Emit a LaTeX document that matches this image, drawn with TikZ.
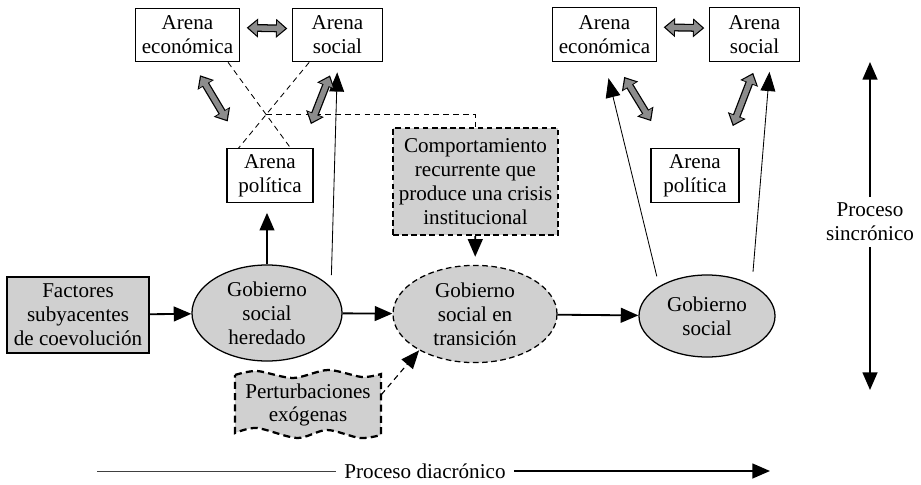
\documentclass[tikz,border=0pt]{standalone}
\usepackage{fontspec}
\setmainfont{Liberation Serif}
\usetikzlibrary{shapes.geometric, arrows.meta, calc}
\definecolor{relleno}{RGB}{208, 208, 208}
\definecolor{flechagris}{RGB}{140, 140, 140}
\tikzset{
    texto/.style={align=center, font=\fontsize{15}{17}\selectfont, inner sep=1pt},
    arena/.style={texto, rectangle, draw=black, line width=0.8pt, fill=white, minimum height=1.34cm},
    factor/.style={texto, rectangle, draw=black, line width=1.3pt, fill=relleno},
    gobierno/.style={texto, ellipse, draw=black, line width=0.9pt, fill=relleno, inner sep=0pt},
    crisis/.style={texto, rectangle, draw=black, line width=1.3pt, dash pattern=on 4pt off 2.5pt, fill=relleno},
    onda/.style={draw=black, line width=1.6pt, dash pattern=on 5pt off 3pt, fill=relleno},
    arr/.style={-{Triangle[length=4.4mm, width=3.7mm]}, line width=1.3pt},
    thinarr/.style={-{Triangle[length=4.8mm, width=3.7mm]}, line width=0.6pt},
    dasharr/.style={-{Triangle[length=4.6mm, width=3.7mm]}, line width=0.8pt, dash pattern=on 4pt off 3pt},
    cruz/.style={line width=0.6pt, dash pattern=on 4pt off 3pt},
    fatout/.style={line width=5.6pt, {Triangle[length=8pt, width=13pt]}-{Triangle[length=8pt, width=13pt]}},
    fatin/.style={line width=3.8pt, flechagris, shorten <=1.4pt, shorten >=1.4pt, {Triangle[length=6pt, width=10pt]}-{Triangle[length=6pt, width=10pt]}}
}
\begin{document}
\begin{tikzpicture}[x=0.025cm, y=-0.025cm]
    \useasboundingbox (0,0) rectangle (921,485);

    % arenas
    \node[arena, minimum width=2.58cm] (econL) at (187.5,35) {Arena\\económica};
    \node[arena, minimum width=2.23cm] (socL) at (337.5,35) {Arena\\social};
    \node[arena, minimum width=2.15cm] (polL) at (270,175.5) {Arena\\política};
    \node[arena, minimum width=2.58cm] (econR) at (604.5,34.5) {Arena\\económica};
    \node[arena, minimum width=2.23cm] (socR) at (754.5,34.5) {Arena\\social};
    \node[arena, minimum width=2.2cm] (polR) at (695,175.5) {Arena\\política};

    % gobierno
    \node[factor, minimum width=3.55cm, minimum height=1.9cm] (factores) at (78,315) {Factores\\subyacentes\\de coevolución};
    \node[gobierno, minimum width=3.75cm, minimum height=2.4cm] (heredado) at (267,313) {Gobierno\\social\\heredado};
    \node[gobierno, dash pattern=on 4pt off 2.5pt, minimum width=4.1cm, minimum height=2.43cm] (transicion) at (475,314) {Gobierno\\social en\\transición};
    \node[gobierno, minimum width=3.4cm, minimum height=2.05cm] (gobR) at (707,316) {Gobierno\\social};
    \node[crisis, minimum width=4.13cm, minimum height=2.68cm] (comport) at (475.5,181.5) {Comportamiento\\recurrente que\\produce una crisis\\institucional};

    \path[onda] (235,375) -- plot[smooth] coordinates {(235,375) (257,371) (293,378) (328,370) (362,377) (381,374)}
        -- plot[smooth] coordinates {(381,435) (360,438) (327,430) (297,438) (257,428) (235,433)} -- cycle;
    \node[texto, minimum width=3.65cm] (perturb) at (308,405) {Perturbaciones\\exógenas};

    \node[texto, inner sep=4pt] (sincro) at (870,222) {Proceso\\sincrónico};
    \coordinate (sincArriba) at (870,62);
    \coordinate (sincAbajo) at (870,390);
    \node[texto, inner xsep=6pt] (diacro) at (425,471) {Proceso diacrónico};
    \coordinate (diaInicio) at (97,471);
    \coordinate (diaFin) at (770,471);

    % flechas
    \draw[arr] (factores) -- (heredado);
    \draw[arr] (heredado) -- (transicion);
    \draw[arr] (transicion) -- (gobR);
    \draw[arr, shorten >=2.5mm] (heredado.north) -- (heredado.north |- polL.south);
    \draw[arr, shorten >=2mm] (comport) -- (transicion);
    \draw[thinarr, shorten <=3mm, shorten >=2.5mm] (heredado.22) -- (socL.south);
    \draw[thinarr, shorten <=2.5mm, shorten >=4.2mm] (gobR.148) -- (econR.south);
    \draw[thinarr, shorten <=3.2mm, shorten >=2.5mm] (gobR.35) -- (socR.300);
    \draw[dasharr] (perturb.8) -- (transicion.213);

    \draw[cruz] (econL.326) -- (polL.53);
    \draw[cruz] (socL.224) -- (polL.139);
    \coordinate (cruce) at (intersection of econL.326--polL.53 and socL.224--polL.139);
    \draw[line width=1.1pt, dash pattern=on 4pt off 3pt] (cruce) -| (comport.north);

    \foreach \desde/\hasta/\ini/\fin in {econL.8/socL.172/1.75mm/1.25mm, econL.280/polL.134/3.75mm/7.75mm,
        socL.265/polL.41/3.5mm/6.45mm, econR.8/socR.172/1.75mm/1.25mm,
        econR.291/polR.135/4.4mm/7.9mm, socR.276/polR.43/2.95mm/5.9mm} {
        \draw[fatout] ($(\desde)!\ini!(\hasta)$) -- ($(\hasta)!\fin!(\desde)$);
        \draw[fatin] ($(\desde)!\ini!(\hasta)$) -- ($(\hasta)!\fin!(\desde)$);
    }

    \draw[arr] (sincro) -- (sincArriba);
    \draw[arr] (sincro) -- (sincAbajo);
    \draw[line width=0.6pt, black!75] (diaInicio) -- (diacro);
    \draw[arr] (diacro) -- (diaFin);
\end{tikzpicture}
\end{document}
